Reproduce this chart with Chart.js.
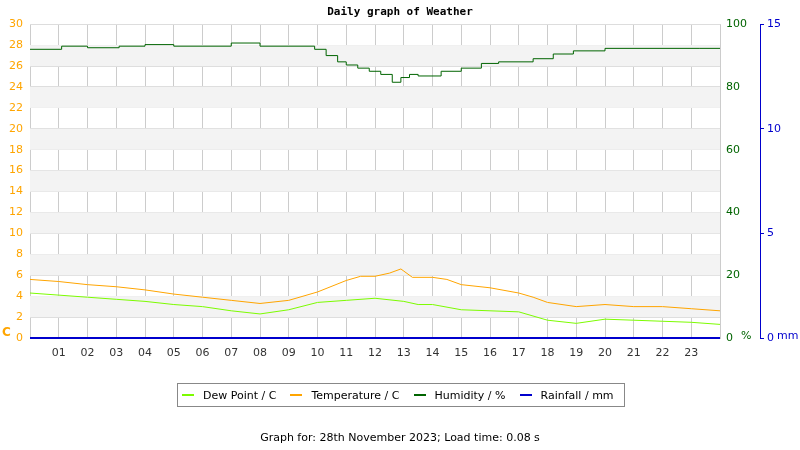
<!DOCTYPE html>
<html>
<head>
<meta charset="utf-8">
<script src="https://cdn.jsdelivr.net/npm/chart.js@4/dist/chart.umd.min.js"></script>
<style>
  body { margin: 0; background: #fff; font-family: "DejaVu Sans", sans-serif; }
  #wrap { position: relative; width: 800px; height: 450px; }
  #legend { position: absolute; left: 177px; top: 383px; width: 446px; height: 22px; border: 1px solid #888;
            font-size: 11px; color: #000; display: flex; align-items: center; }
  #legend span { display: inline-flex; align-items: center; margin-left: 4px; margin-right: 10px; }
  #legend i { display: inline-block; width: 12px; height: 2px; margin-right: 9px; }
  #foot { position: absolute; top: 431px; width: 800px; text-align: center; font-size: 11px; }
</style>
</head>
<body>
<div id="wrap">
  <canvas id="chart" width="800" height="450"></canvas>
  <div id="legend">
    <span><i style="background:#7cfc00"></i>Dew Point / C</span>
    <span><i style="background:#ffa500"></i>Temperature / C</span>
    <span><i style="background:#006400"></i>Humidity / %</span>
    <span><i style="background:#0000cd"></i>Rainfall / mm</span>
  </div>
  <div id="foot">Graph for: 28th November 2023; Load time: 0.08 s</div>
</div>
<script>
// hours of day
const temp_hours = [0, 1, 2, 3, 4, 5, 6, 7, 8, 9, 10, 11, 11.5, 12, 12.5, 12.9, 13.3, 14, 14.5, 15, 16, 17, 17.5, 18, 19, 20, 21, 22, 23, 24];
const temperature = [5.6, 5.4, 5.1, 4.9, 4.6, 4.2, 3.9, 3.6, 3.3, 3.6, 4.4, 5.5, 5.9, 5.9, 6.2, 6.6, 5.8, 5.8, 5.6, 5.1, 4.8, 4.3, 3.9, 3.4, 3.0, 3.2, 3.0, 3.0, 2.8, 2.6];

const dew_hours = [0, 1, 2, 3, 4, 5, 6, 7, 8, 9, 10, 11, 12, 13, 13.5, 14, 15, 16, 17, 18, 19, 20, 21, 22, 23, 24];
const dew_point = [4.3, 4.1, 3.9, 3.7, 3.5, 3.2, 3.0, 2.6, 2.3, 2.7, 3.4, 3.6, 3.8, 3.5, 3.2, 3.2, 2.7, 2.6, 2.5, 1.7, 1.4, 1.8, 1.7, 1.6, 1.5, 1.3];

const hum_hours = [0, 1.1, 2, 3.1, 4, 5, 7, 8, 9.9, 10.3, 10.7, 11, 11.4, 11.8, 12.2, 12.6, 12.9, 13.2, 13.5, 14.3, 15, 15.7, 16.3, 17.5, 18.2, 18.9, 20, 23.3, 24];
const humidity = [92, 92, 93, 92.5, 93, 93.5, 93, 94, 93, 92, 90, 88, 87, 86, 85, 84, 81.5, 83, 84, 83.5, 85, 86, 87.5, 88, 89, 90.5, 91.5, 92.3, 92.3];

const rain_hours = [0, 24];
const rainfall = [0, 0];

const hour_labels = ['01','02','03','04','05','06','07','08','09','10','11','12','13','14','15','16','17','18','19','20','21','22','23'];

function pts(xs, ys) { return xs.map((x, i) => ({ x: x, y: ys[i] })); }

const bands = {
  id: 'bands',
  beforeDatasetsDraw(chart) {
    const { ctx, chartArea: a, scales: { y } } = chart;
    ctx.save();
    ctx.fillStyle = '#f3f3f3';
    for (let v = 2; v < 30; v += 4) {
      const top = y.getPixelForValue(v + 2), bot = y.getPixelForValue(v);
      ctx.fillRect(a.left, top, a.right - a.left, bot - top);
    }
    ctx.restore();
  }
};

const unitLabels = {
  id: 'unitLabels',
  afterDraw(chart) {
    const { ctx, chartArea: a } = chart;
    ctx.save();
    ctx.font = 'bold 12px "DejaVu Sans"';
    ctx.textBaseline = 'middle';
    ctx.fillStyle = '#ffa500'; ctx.fillText('C', 2, a.bottom - 5);
    ctx.font = '11px "DejaVu Sans"';
    ctx.fillStyle = '#006400'; ctx.fillText('%', 741, a.bottom - 2);
    ctx.fillStyle = '#0000cd'; ctx.fillText('mm', 777, a.bottom - 2);
    ctx.restore();
  }
};

const line = (label, data, color, axis, stepped, width) => ({
  label: label, data: data, yAxisID: axis, borderColor: color, backgroundColor: color,
  borderWidth: width, pointRadius: 0, stepped: stepped, fill: false, clip: 3
});

new Chart(document.getElementById('chart'), {
  type: 'line',
  data: {
    datasets: [
      line('Humidity / %', pts(hum_hours, humidity), '#006400', 'yh', 'after', 1),
      line('Temperature / C', pts(temp_hours, temperature), '#ffa500', 'y', false, 1),
      line('Dew Point / C', pts(dew_hours, dew_point), '#7cfc00', 'y', false, 1),
      line('Rainfall / mm', pts(rain_hours, rainfall), '#0000cd', 'yr', false, 2)
    ]
  },
  options: {
    animation: false,
    responsive: false,
    layout: { padding: 0 },
    plugins: {
      legend: { display: false },
      tooltip: { enabled: false },
      title: {
        display: true, text: 'Daily graph of Weather', color: '#000',
        font: { family: '"DejaVu Sans Mono"', size: 11, weight: 'bold' },
        padding: { top: 6, bottom: 5 }
      }
    },
    scales: {
      x: {
        type: 'linear', min: 0, max: 24,
        afterFit(s) { s.height = 112; },
        grid: { color: '#ccc', drawTicks: false },
        border: { color: '#ccc' },
        ticks: {
          stepSize: 1, autoSkip: false, maxRotation: 0, padding: 9, color: '#333',
          font: { family: '"DejaVu Sans"', size: 11 },
          callback: (v) => (v >= 1 && v <= 23) ? hour_labels[v - 1] : ''
        }
      },
      y: {
        min: 0, max: 30, position: 'left',
        afterFit(s) { s.width = 30; },
        grid: { color: '#ddd', drawTicks: false },
        border: { display: false },
        ticks: { stepSize: 2, color: '#ffa500', padding: 7, font: { family: '"DejaVu Sans"', size: 11 } }
      },
      yh: {
        min: 0, max: 100, position: 'right',
        afterFit(s) { s.width = 40; },
        grid: { drawOnChartArea: false, drawTicks: false },
        border: { display: false },
        ticks: { stepSize: 20, color: '#006400', padding: 6, font: { family: '"DejaVu Sans"', size: 11 } }
      },
      yr: {
        min: 0, max: 15, position: 'right',
        afterFit(s) { s.width = 40; },
        grid: { drawOnChartArea: false, color: '#0000cd', tickLength: 4 },
        border: { color: '#0000cd' },
        ticks: { stepSize: 5, color: '#0000cd', padding: 3, font: { family: '"DejaVu Sans"', size: 11 } }
      }
    }
  },
  plugins: [bands, unitLabels]
});
</script>
</body>
</html>
